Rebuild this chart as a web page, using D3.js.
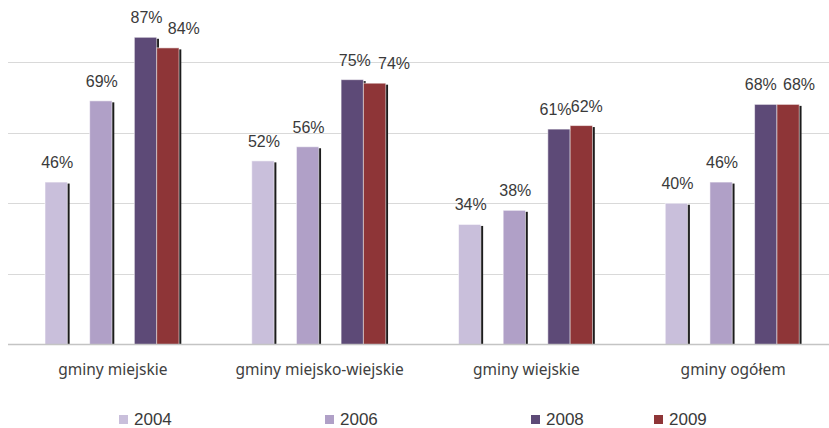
<!DOCTYPE html>
<html>
<head>
<meta charset="utf-8">
<script src="https://cdn.jsdelivr.net/npm/d3@7"></script>
<style>
  html, body { margin: 0; padding: 0; background: #fff; }
  svg { display: block; }
</style>
</head>
<body>
<svg id="chart" width="829" height="428"></svg>
<script>
// Categories, series and values
const categories = ["gminy miejskie", "gminy miejsko-wiejskie", "gminy wiejskie", "gminy ogółem"];
const series = ["2004", "2006", "2008", "2009"];
const values2004 = [46, 52, 34, 40];
const values2006 = [69, 56, 38, 46];
const values2008 = [87, 75, 61, 68];
const values2009 = [84, 74, 62, 68];
const gridTicks = [20, 40, 60, 80];

const seriesValues = { "2004": values2004, "2006": values2006, "2008": values2008, "2009": values2009 };
const colors = { "2004": "#c9bfdb", "2006": "#b0a0c7", "2008": "#5d4a77", "2009": "#8e3537" };

const svg = d3.select("#chart");
const W = 829;
const baseY = 344.5;

// Scales
const x0 = d3.scaleBand().domain(categories).range([9, 836]);
// slot layout inside a group: spacers keep 2004 / 2006 / 2008 apart, 2009 sits next to 2008
const slots = ["2004", "s1", "2006", "s2", "2008", "2009"];
const x1 = d3.scaleBand().domain(slots).range([36, 170]);
const y = d3.scaleLinear().domain([0, 80]).range([baseY, 62]);

// Gridlines
svg.append("g").selectAll("line").data(gridTicks).join("line")
  .attr("x1", 8).attr("x2", W)
  .attr("y1", d => Math.round(y(d)) + 0.5).attr("y2", d => Math.round(y(d)) + 0.5)
  .attr("stroke", "#d9d9d9").attr("stroke-width", 1);

const rows = [];
categories.forEach((c, i) => series.forEach(s => rows.push({ cat: c, s, v: seriesValues[s][i] })));

// Bar shadows (drawn first so the neighbouring bar hides them)
svg.append("g").selectAll("rect").data(rows).join("rect")
  .attr("x", d => x0(d.cat) + x1(d.s) + 2.3)
  .attr("y", d => y(d.v) + 1.5)
  .attr("width", x1.bandwidth())
  .attr("height", d => baseY - y(d.v) - 1.5)
  .attr("fill", "#1c1c1c");

// Bars
svg.append("g").selectAll("rect").data(rows).join("rect")
  .attr("x", d => x0(d.cat) + x1(d.s))
  .attr("y", d => y(d.v))
  .attr("width", x1.bandwidth())
  .attr("height", d => baseY - y(d.v))
  .attr("fill", d => colors[d.s])
  .attr("stroke", "rgba(255,255,255,0.55)")
  .attr("stroke-width", 1);

// Baseline
svg.append("line")
  .attr("x1", 8).attr("x2", W).attr("y1", baseY).attr("y2", baseY)
  .attr("stroke", "#c4c4c4").attr("stroke-width", 1.5);

// Value labels; labels of touching 2008/2009 bars are spread apart
const nudge = {
  "gminy miejskie|2009": 15,
  "gminy miejsko-wiejskie|2008": 1.5,
  "gminy miejsko-wiejskie|2009": 18.5,
  "gminy wiejskie|2008": -4.5,
  "gminy wiejskie|2009": 4.5,
  "gminy ogółem|2008": -6,
  "gminy ogółem|2009": 10
};
svg.append("g").selectAll("text").data(rows).join("text")
  .attr("x", d => x0(d.cat) + x1(d.s) + x1.bandwidth() / 2 + 1 + (nudge[d.cat + "|" + d.s] || 0))
  .attr("y", d => y(d.v) - 14)
  .attr("text-anchor", "middle")
  .attr("font-family", "'Liberation Sans', Arial, sans-serif")
  .attr("font-size", 16)
  .attr("fill", "#3a3a3a")
  .text(d => d.v + "%");

// Category labels
svg.append("g").selectAll("text").data(categories).join("text")
  .attr("x", d => x0(d) + x0.bandwidth() / 2 + 0.5)
  .attr("y", 375)
  .attr("text-anchor", "middle")
  .attr("font-family", "'Noto Sans', sans-serif")
  .attr("font-size", 15.5)
  .attr("fill", "#404040")
  .text(d => d);

// Legend
const legendX = [119, 325, 531, 654];
const lg = svg.append("g").selectAll("g").data(series).join("g")
  .attr("transform", (d, i) => `translate(${legendX[i]},0)`);
lg.append("rect").attr("x", 0).attr("y", 415).attr("width", 9).attr("height", 9)
  .attr("fill", d => colors[d]);
lg.append("text").attr("x", 15).attr("y", 425)
  .attr("font-family", "'Liberation Sans', Arial, sans-serif")
  .attr("font-size", 17)
  .attr("fill", "#3a3a3a")
  .text(d => d);
</script>
</body>
</html>
